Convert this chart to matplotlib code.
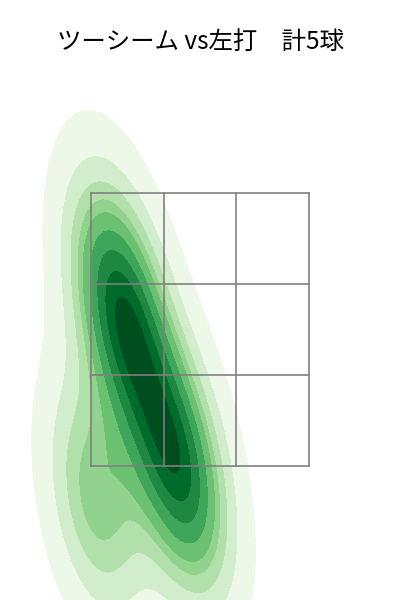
import numpy as np
import matplotlib
matplotlib.use("Agg")
import matplotlib.pyplot as plt
import seaborn as sns

plt.rcParams['font.family'] = ['Noto Sans CJK JP', 'DejaVu Sans']

title = 'ツーシーム vs左打　計5球'
# pitch locations (feet, catcher view)
plate_x = [-0.685, -0.533, -0.244, -0.085, -0.80]
plate_z = [2.863, 2.496, 1.690, 1.275, 1.251]

zone_x = [-0.83, -0.277, 0.277, 0.83]
zone_z = [1.5, 2.167, 2.833, 3.5]

fig = plt.figure(figsize=(4, 6), dpi=100)
ax = fig.add_axes([0, 0, 1, 530 / 600])
sns.kdeplot(x=plate_x, y=plate_z, fill=True, cmap='Greens', levels=10,
            bw_adjust=1.1, ax=ax)

# strike zone 3x3
for zx in zone_x:
    ax.plot([zx, zx], [zone_z[0], zone_z[-1]], color='gray', lw=1.2)
for zz in zone_z:
    ax.plot([zone_x[0], zone_x[-1]], [zz, zz], color='gray', lw=1.2)

ax.set_xlim(-1.523, 1.523)
ax.set_ylim(0.518, 4.40)
ax.axis('off')
fig.text(0.5, 1 - 42 / 600, title, ha='center', va='center', fontsize=17.6)
fig.savefig('out.png', dpi=100)
